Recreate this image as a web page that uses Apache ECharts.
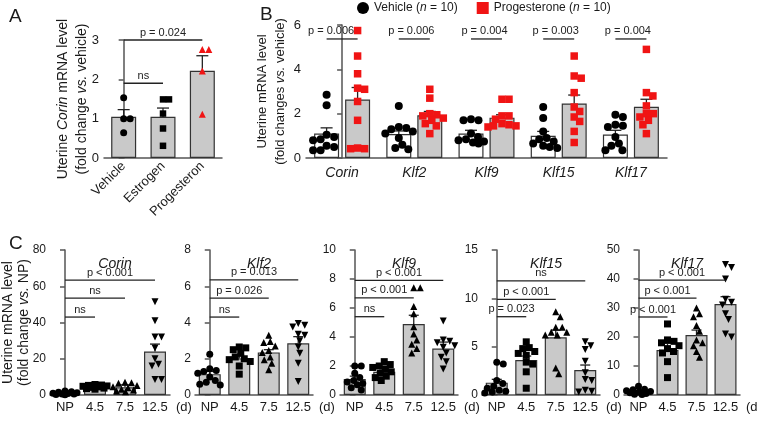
<!DOCTYPE html>
<html>
<head>
<meta charset="utf-8">
<script src="https://cdn.jsdelivr.net/npm/echarts@6/dist/echarts.min.js"></script>
<style>html,body{margin:0;padding:0;background:#fff}#main{width:757px;height:421px}</style>
</head>
<body>
<div id="main"></div>
<script>
var chart = echarts.init(document.getElementById('main'));
var FONT = "'Liberation Sans', Arial, sans-serif";
var AXIS = '#555';
var TXT = '#1a1a1a';
var GREY = '#c9c9c9';
var RED = '#f01414';

// ---- panel A : Corin after vehicle / estrogen / progesterone
var catsA = ['Vehicle', 'Estrogen', 'Progesteron'];
var meanA = [1.05, 1.05, 2.22];
var topA = [1.23, 1.27, 2.6];
var vehA = [1.53, 1.0, 1.0, 0.64];
var estA = [1.49, 1.49, 1.13, 0.75, 0.31];
var proA = [2.76, 2.76, 2.21, 1.11];
var sigTextA = ['ns', 'p = 0.024'];
var sigFromA = [0, 0];
var sigToA = [1, 2];
var sigYA = [1.9, 3.0];

// ---- panel B : vehicle vs progesterone, 5 genes
var genesB = ['Corin', 'Klf2', 'Klf9', 'Klf15', 'Klf17'];
var meanVehB = [1.1, 1.08, 1.1, 1.0, 1.06];
var topVehB = [1.36, 1.22, 1.25, 1.2, 1.25];
var meanProB = [2.64, 1.93, 1.82, 2.46, 2.31];
var topProB = [3.18, 2.1, 1.95, 2.84, 2.65];
var ptsVehB = [
  [2.85, 2.38, 1.05, 0.95, 0.85, 0.8, 0.55, 0.5, 0.35, 0.35],
  [2.35, 1.4, 1.35, 1.3, 1.2, 1.1, 0.9, 0.6, 0.45, 0.4],
  [1.75, 1.7, 1.7, 1.1, 0.95, 0.85, 0.8, 0.75, 0.7, 0.65],
  [2.3, 1.8, 1.2, 0.9, 0.85, 0.75, 0.65, 0.55, 0.5, 0.45],
  [1.95, 1.85, 1.5, 1.45, 1.4, 0.95, 0.65, 0.55, 0.35, 0.35]
];
var ptsProB = [
  [5.75, 4.6, 3.8, 3.15, 3.1, 2.55, 1.7, 0.45, 0.42, 0.42],
  [3.1, 2.7, 2.0, 1.95, 1.9, 1.8, 1.7, 1.55, 1.45, 1.1],
  [2.65, 2.65, 1.9, 1.9, 1.75, 1.55, 1.5, 1.45, 1.45, 1.4],
  [4.6, 3.7, 3.6, 2.95, 2.3, 2.1, 1.85, 1.65, 1.2, 0.7],
  [4.9, 2.95, 2.8, 2.35, 2.0, 2.0, 1.85, 1.7, 1.5, 1.1]
];
var sigTextB = ['p = 0.006', 'p = 0.006', 'p = 0.004', 'p = 0.003', 'p = 0.004'];
var sigYB = [5.37, 5.37, 5.37, 5.37, 5.37];

// ---- panel C : time course in pregnancy
var daysC = ['NP', '4.5', '7.5', '12.5'];
var genesC = ['Corin', 'Klf2', 'Klf9', 'Klf15', 'Klf17'];
var yMaxC = [80, 8, 10, 15, 50];
var yStepC = [20, 2, 2, 5, 10];
var meanC = [
  [1.0, 4.5, 4.3, 24],
  [1.15, 2.02, 2.35, 2.85],
  [1.1, 1.6, 4.9, 3.2],
  [1.28, 3.62, 5.97, 2.59],
  [1.2, 15.5, 20.7, 31.4]
];
var topC = [
  [1.3, 5.0, 5.6, 28.1],
  [1.3, 2.2, 2.5, 3.22],
  [1.3, 1.8, 5.5, 3.65],
  [1.62, 4.03, 6.72, 3.1],
  [1.5, 17.8, 22.4, 33.9]
];
var ptsCorinC = [
  [2.2, 1.8, 1.5, 1.2, 1.0, 0.8, 0.6, 0.5, 0.3, 0.2],
  [5.8, 5.5, 5.3, 5.0, 4.8, 4.5, 4.2, 3.8, 3.5, 3.2],
  [7.0, 6.8, 6.5, 5.2, 4.5, 4.0, 3.2, 2.8, 2.2, 1.8],
  [51.5, 41, 32, 32, 26, 20, 17, 16, 8.5, 8.5]
];
var ptsKlf2C = [
  [2.25, 1.45, 1.35, 1.3, 1.2, 1.0, 0.8, 0.7, 0.6, 0.55],
  [2.65, 2.6, 2.5, 2.3, 2.1, 2.0, 1.95, 1.85, 1.6, 1.15],
  [3.3, 2.95, 2.9, 2.7, 2.45, 2.35, 2.1, 1.95, 1.75, 1.4],
  [3.95, 3.85, 3.75, 3.35, 3.3, 3.0, 2.65, 2.3, 1.75, 0.75]
];
var ptsKlf9C = [
  [2.0, 2.0, 1.5, 1.2, 1.0, 0.9, 0.8, 0.7, 0.5, 0.35],
  [2.3, 2.1, 2.0, 1.9, 1.8, 1.6, 1.5, 1.3, 1.2, 1.0],
  [7.4, 7.4, 6.1, 5.6, 4.7, 4.2, 3.8, 3.5, 3.2, 2.9],
  [5.1, 3.8, 3.7, 3.6, 3.4, 3.3, 2.9, 2.6, 2.3, 1.8]
];
var ptsKlf15C = [
  [3.4, 3.2, 1.5, 1.2, 0.9, 0.7, 0.5, 0.4, 0.3, 0.2],
  [5.5, 4.9, 4.8, 4.5, 4.3, 4.1, 3.4, 3.2, 2.4, 0.7],
  [8.6, 8.1, 7.0, 7.0, 6.5, 6.5, 6.2, 6.2, 2.8, 2.2],
  [5.5, 5.1, 4.7, 3.5, 2.3, 1.6, 1.5, 0.5, 0.4, 0.3]
];
var ptsKlf17C = [
  [3.0, 2.0, 1.8, 1.5, 1.2, 1.0, 0.8, 0.5, 0.3, 0.2],
  [24.5, 19, 18.5, 18, 17, 16, 15, 14.5, 11.5, 6],
  [30, 28, 27, 24, 22, 19, 18, 17, 15, 13],
  [45, 44, 40, 33, 32, 31, 28, 26, 21, 20]
];
var ptsC = [ptsCorinC, ptsKlf2C, ptsKlf9C, ptsKlf15C, ptsKlf17C];
var sigTextC = [
  ['ns', 'ns', 'p < 0.001'],
  ['ns', 'p = 0.026', 'p = 0.013'],
  ['ns', 'p < 0.001', 'p < 0.001'],
  ['p = 0.023', 'p < 0.001', 'ns'],
  ['p < 0.001', 'p < 0.001', 'p < 0.001']
];
var sigToC = [1, 2, 3];
var sigYC = [
  [43, 53.5, 63.4],
  [4.3, 5.35, 6.35],
  [5.4, 6.7, 7.9],
  [8.1, 9.9, 11.8],
  [26.9, 33.4, 39.6]
];

var grids = [], xAxes = [], yAxes = [], series = [];

// one grid = visible category x axis + hidden value x axis (for dots / whiskers / brackets)
function addPanel(p) {
  var gi = grids.length;
  var ns = p.nameSize || 13;
  grids.push({ left: p.left, top: p.top, width: p.width, height: p.height, containLabel: false, outerBoundsMode: 'none' });
  xAxes.push({
    type: 'category', gridIndex: gi, data: p.cats,
    axisLine: { lineStyle: { color: AXIS, width: 1.5 } },
    axisTick: { show: false },
    axisLabel: Object.assign({ color: TXT, fontFamily: FONT, fontSize: 13, interval: 0 }, p.label || {}),
    name: p.xName || '', nameLocation: 'end', nameGap: 6, nameMoveOverlap: false,
    nameTextStyle: { color: TXT, fontFamily: FONT, fontSize: 13, verticalAlign: 'top', padding: [6, 0, 0, 0] }
  });
  xAxes.push({ type: 'value', gridIndex: gi, min: -0.5, max: p.cats.length - 0.5, show: false });
  yAxes.push({
    type: 'value', gridIndex: gi, min: 0, max: p.max, interval: p.step,
    axisLine: { show: true, lineStyle: { color: AXIS, width: 1.5 } },
    axisTick: { show: true, length: 5, lineStyle: { color: AXIS, width: 1.5 } },
    axisLabel: { color: TXT, fontFamily: FONT, fontSize: p.tickSize || 13, margin: p.tickMargin || 5 },
    splitLine: { show: false },
    name: p.yName || '', nameLocation: 'middle', nameRotate: 90, nameGap: p.nameGap || 15,
    nameMoveOverlap: false,
    nameTextStyle: {
      color: TXT, fontFamily: FONT, fontSize: ns, lineHeight: p.lh,
      rich: {
        n: { fontFamily: FONT, fontSize: ns, color: TXT, lineHeight: p.lh },
        i: { fontFamily: FONT, fontSize: ns, color: TXT, lineHeight: p.lh, fontStyle: 'italic' }
      }
    }
  });
  return { cat: 2 * gi, val: 2 * gi + 1, y: gi, pxPerUnit: p.height / p.max, catW: p.width / p.cats.length };
}

// simple beeswarm: spread equal-ish values sideways so the dots do not overlap
function swarm(vals, pxPerUnit, size, maxHalf) {
  var idx = vals.map(function (v, i) { return i; });
  idx.sort(function (a, b) { return vals[b] - vals[a]; });
  var placed = [], offs = [], minD = size * 0.92;
  idx.forEach(function (i) {
    var y = vals[i] * pxPerUnit;
    var best = 0, bestScore = -1;
    for (var s = 0; s <= maxHalf; s += 0.5) {
      var cands = s === 0 ? [0] : [s, -s];
      for (var c = 0; c < cands.length; c++) {
        var dx = cands[c], dmin = Infinity;
        placed.forEach(function (q) {
          var d = Math.sqrt((q[0] - dx) * (q[0] - dx) + (q[1] - y) * (q[1] - y));
          if (d < dmin) dmin = d;
        });
        if (dmin >= minD) { best = dx; bestScore = Infinity; break; }
        if (dmin > bestScore) { bestScore = dmin; best = dx; }
      }
      if (bestScore === Infinity) break;
    }
    placed.push([best, y]);
    offs[i] = best;
  });
  return offs;
}

function barSeries(ax, vals, color, width, gap) {
  return {
    type: 'bar', xAxisIndex: ax.cat, yAxisIndex: ax.y, data: vals, barWidth: width,
    barGap: gap || '30%', silent: true, z: 2,
    itemStyle: { color: color, borderColor: '#333', borderWidth: 1.2 }
  };
}

function errSeries(ax, means, tops, shift, cap) {
  return {
    type: 'custom', xAxisIndex: ax.val, yAxisIndex: ax.y, silent: true, z: 3,
    data: means.map(function (m, i) { return [i + shift, m, tops[i]]; }),
    encode: { x: 0, y: [1, 2] },
    renderItem: function (params, api) {
      var a = api.coord([api.value(0), api.value(1)]);
      var b = api.coord([api.value(0), api.value(2)]);
      var st = { stroke: '#222', lineWidth: 1.3 };
      return { type: 'group', children: [
        { type: 'line', shape: { x1: a[0], y1: a[1], x2: b[0], y2: b[1] }, style: st },
        { type: 'line', shape: { x1: b[0] - cap / 2, y1: b[1], x2: b[0] + cap / 2, y2: b[1] }, style: st }
      ] };
    }
  };
}

function dotSeries(name, ax, groups, shift, symbol, rotate, color, size, maxHalf) {
  var data = [];
  groups.forEach(function (g) {
    var offs = swarm(g[1], ax.pxPerUnit, size, maxHalf);
    g[1].forEach(function (v, k) { data.push([g[0] + shift + offs[k] / ax.catW, v]); });
  });
  return {
    name: name, type: 'scatter', xAxisIndex: ax.val, yAxisIndex: ax.y, data: data,
    symbol: symbol, symbolSize: size, symbolRotate: rotate, silent: true, z: 4,
    itemStyle: { color: color, opacity: 1 }
  };
}

// bracket line + text; textDx nudges a label sideways (layout only)
function sigSeries(ax, x1, x2, ys, texts, fontSize, textDx) {
  return {
    type: 'custom', xAxisIndex: ax.val, yAxisIndex: ax.y, silent: true, z: 5,
    data: ys.map(function (y, i) { return [x1[i], x2[i], y]; }),
    encode: { x: [0, 1], y: 2 },
    renderItem: function (params, api) {
      var a = api.coord([api.value(0), api.value(2)]);
      var b = api.coord([api.value(1), api.value(2)]);
      var dx = textDx ? textDx[params.dataIndex] : 0;
      return { type: 'group', children: [
        { type: 'line', shape: { x1: a[0], y1: a[1], x2: b[0], y2: b[1] }, style: { stroke: '#222', lineWidth: 1.3 } },
        { type: 'text', style: { text: texts[params.dataIndex], x: (a[0] + b[0]) / 2 + dx, y: a[1] - 2,
          align: 'center', verticalAlign: 'bottom', fontSize: fontSize, fontFamily: FONT, fill: '#222' } }
      ] };
    }
  };
}

// ---------- A
var axA = addPanel({
  left: 104, top: 40, width: 118, height: 118, cats: catsA, max: 3, step: 1,
  label: { rotate: 45, margin: 6, fontSize: 13 },
  yName: '{n|Uterine }{i|Corin}{n| mRNA level}\n{n|(fold change }{i|vs.}{n| vehicle)}',
  nameGap: 12.5, nameSize: 14, lh: 19
});
series.push(barSeries(axA, meanA, GREY, 25));
series.push(errSeries(axA, meanA, topA, 0, 12));
series.push(dotSeries('A vehicle', axA, [[0, vehA]], 0, 'circle', 0, '#000', 7, 12));
series.push(dotSeries('A estrogen', axA, [[1, estA]], 0, 'rect', 0, '#000', 6.5, 12));
series.push(dotSeries('A progesterone', axA, [[2, proA]], 0, 'triangle', 0, RED, 7, 12));
series.push(sigSeries(axA, sigFromA, sigToA, sigYA, sigTextA, 11));

// ---------- B
var barWB = 25, gapB = 6;
var axB = addPanel({
  left: 306, top: 25, width: 361, height: 133, cats: genesB, max: 6, step: 2,
  label: { fontStyle: 'italic', fontSize: 14, margin: 8 },
  yName: '{n|Uterine mRNA level}\n{n|(fold changes }{i|vs.}{n| vehicle)}',
  nameGap: 17, nameSize: 13, lh: 18
});
var shiftB = (barWB + gapB) / 2 / axB.catW;
series.push(barSeries(axB, meanVehB, '#fff', barWB, (gapB / barWB * 100) + '%'));
series.push(barSeries(axB, meanProB, GREY, barWB, (gapB / barWB * 100) + '%'));
series.push(errSeries(axB, meanVehB, topVehB, -shiftB, 12));
series.push(errSeries(axB, meanProB, topProB, shiftB, 12));
series.push(dotSeries('Vehicle', axB, ptsVehB.map(function (v, i) { return [i, v]; }), -shiftB, 'circle', 0, '#000', 8, 14));
series.push(dotSeries('Progesterone', axB, ptsProB.map(function (v, i) { return [i, v]; }), shiftB, 'rect', 0, RED, 7.5, 14));
series.push(sigSeries(axB,
  genesB.map(function (g, i) { return i - shiftB; }),
  genesB.map(function (g, i) { return i + shiftB; }),
  sigYB, sigTextB, 11, [-11, -3, -2, -3, -3]));

// ---------- C
var leftC = [50, 195, 340, 482, 624];
var widthC = [120, 118, 118, 118, 116];
var titles = [
  { text: 'A', left: 4, top: 2, textStyle: { fontSize: 19, fontWeight: 'normal', color: TXT, fontFamily: FONT } },
  { text: 'B', left: 255, top: 0, textStyle: { fontSize: 19, fontWeight: 'normal', color: TXT, fontFamily: FONT } },
  { text: 'C', left: 4, top: 229, textStyle: { fontSize: 19, fontWeight: 'normal', color: TXT, fontFamily: FONT } }
];
var symC = [['circle', 0], ['rect', 0], ['triangle', 0], ['triangle', 180]];
genesC.forEach(function (gene, k) {
  var ax = addPanel({
    left: leftC[k], top: 250, width: widthC[k], height: 145, cats: daysC, max: yMaxC[k], step: yStepC[k],
    label: { margin: 6, fontSize: 13 }, xName: '(d)', tickSize: 12, tickMargin: 4,
    yName: k === 0 ? '{n|Uterine mRNA level}\n{n|(fold change }{i|vs.}{n| NP)}' : '',
    nameGap: 17.5, nameSize: 14, lh: 16
  });
  series.push(barSeries(ax, meanC[k], GREY, 22));
  series.push(errSeries(ax, meanC[k], topC[k], 0, 10));
  ptsC[k].forEach(function (vals, d) {
    series.push(dotSeries(gene + ' ' + daysC[d], ax, [[d, vals]], 0, symC[d][0], symC[d][1], '#000', 7, 12));
  });
  series.push(sigSeries(ax, [0, 0, 0], sigToC, sigYC[k], sigTextC[k], 11));
  titles.push({
    text: gene, left: leftC[k] + widthC[k] / 2, top: 252, textAlign: 'center',
    textStyle: { fontSize: 14, fontStyle: 'italic', fontWeight: 'normal', color: TXT, fontFamily: FONT }
  });
});

var option = {
  animation: false,
  backgroundColor: '#fff',
  title: titles,
  legend: {
    top: 2, left: 357, padding: 0, itemWidth: 12, itemHeight: 12, itemGap: 19, selectedMode: false,
    data: [{ name: 'Vehicle', icon: 'circle' }, { name: 'Progesterone', icon: 'rect' }],
    formatter: function (n) { return n + ' ({i|n} = 10)'; },
    textStyle: { fontSize: 12, color: TXT, fontFamily: FONT,
      rich: { i: { fontSize: 12, color: TXT, fontFamily: FONT, fontStyle: 'italic' } } }
  },
  grid: grids,
  xAxis: xAxes,
  yAxis: yAxes,
  series: series
};
chart.setOption(option);
</script>
</body>
</html>
